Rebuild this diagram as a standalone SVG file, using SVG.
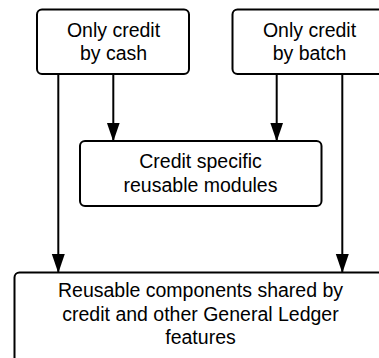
<svg xmlns="http://www.w3.org/2000/svg" width="379" height="358" viewBox="0 0 379 358">
<style>
.box{fill:#fff;stroke:#000;stroke-width:2}
.lbl{font-family:"Liberation Sans",Arial,sans-serif;font-size:19.5px;fill:#000;text-anchor:middle}
.con{fill:none;stroke:#000;stroke-width:2}
</style>
<defs>
<marker id="arr" markerUnits="userSpaceOnUse" markerWidth="20" markerHeight="14" viewBox="0 0 20 14" refX="19" refY="7" orient="auto">
<path d="M0,0.5 L19,7 L0,13.5 Z" fill="#000"/>
</marker>
</defs>
<rect width="379" height="358" fill="#fff"/>
<g id="shared">
<rect class="box" x="14.5" y="272.5" width="372" height="95" rx="5"/>
<text class="lbl" x="200.5" y="297.3">Reusable components shared by</text>
<text class="lbl" x="200.5" y="320.6">credit and other General Ledger</text>
<text class="lbl" x="200.5" y="343.6">features</text>
</g>
<g id="specific">
<rect class="box" x="80" y="141" width="241.5" height="65" rx="5"/>
<text class="lbl" x="200.5" y="168.3">Credit specific</text>
<text class="lbl" x="200.5" y="191.6">reusable modules</text>
</g>
<g id="cash">
<rect class="box" x="37" y="9.5" width="152" height="64.5" rx="5"/>
<text class="lbl" x="113.5" y="37.3">Only credit</text>
<text class="lbl" x="113.5" y="60.3">by cash</text>
</g>
<g id="batch">
<rect class="box" x="232.5" y="9.5" width="154" height="64.5" rx="5"/>
<text class="lbl" x="309.5" y="37.3">Only credit</text>
<text class="lbl" x="309.5" y="60.3">by batch</text>
</g>
<g id="connectors">
<path d="M113.3,75 L113.3,141.5" class="con" marker-end="url(#arr)"/>
<path d="M276.7,75 L276.7,141.5" class="con" marker-end="url(#arr)"/>
<path d="M58.3,75 L58.3,273" class="con" marker-end="url(#arr)"/>
<path d="M342.3,75 L342.3,273" class="con" marker-end="url(#arr)"/>
</g>
</svg>
